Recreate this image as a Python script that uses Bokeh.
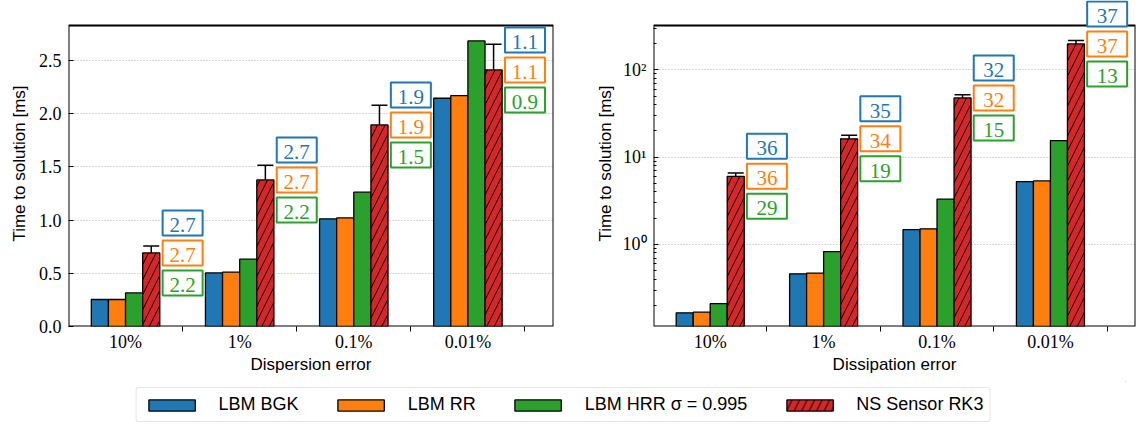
import math
from bokeh.plotting import figure
from bokeh.models import (ColumnDataSource, Range1d, FixedTicker, NumeralTickFormatter,
                          Label, Whisker, TeeHead, Legend, LegendItem, BoxAnnotation)
from bokeh.layouts import column, row
from bokeh.embed import file_html
from bokeh.resources import INLINE

# ---------------- data ----------------
categories = ["10%", "1%", "0.1%", "0.01%"]

disp_bgk = [0.254, 0.504, 1.012, 2.146]
disp_rr = [0.254, 0.511, 1.021, 2.171]
disp_hrr = [0.316, 0.633, 1.263, 2.685]
disp_ns = [0.692, 1.378, 1.895, 2.412]
disp_ns_lo = [0.620, 1.237, 1.707, 2.168]
disp_ns_hi = [0.758, 1.516, 2.080, 2.654]
disp_speedup_bgk = ["2.7", "2.7", "1.9", "1.1"]
disp_speedup_rr = ["2.7", "2.7", "1.9", "1.1"]
disp_speedup_hrr = ["2.2", "2.2", "1.5", "0.9"]

diss_bgk = [0.165, 0.461, 1.48, 5.26]
diss_rr = [0.168, 0.470, 1.51, 5.35]
diss_hrr = [0.210, 0.830, 3.30, 15.5]
diss_ns = [6.04, 16.2, 47.7, 198.0]
diss_ns_lo = [5.5, 14.5, 43.0, 180.0]
diss_ns_hi = [6.6, 17.8, 52.0, 217.0]
diss_speedup_bgk = ["36", "35", "32", "37"]
diss_speedup_rr = ["36", "34", "32", "37"]
diss_speedup_hrr = ["29", "19", "15", "13"]

series_names = ["LBM BGK", "LBM RR", "LBM HRR σ = 0.995", "NS Sensor RK3"]
colors = ["#1f77b4", "#ff7f0e", "#2ca02c", "#d62728"]
y_label = "Time to solution [ms]"

SERIF = "Liberation Serif"
SANS = "Liberation Sans"
BAR_W = 0.15
offsets = [-1.5 * BAR_W, -0.5 * BAR_W, 0.5 * BAR_W, 1.5 * BAR_W]
HATCH = dict(hatch_pattern="/", hatch_color="black", hatch_weight=1,
             hatch_scale=15, hatch_alpha=1.0)
FRAME_H = 301          # visible axes height
TOP_PAD = 25           # space above the axes (kept inside the drawing area so boxes can overflow)
X0, X1 = -0.5, 3.75
BOX_W_PX, BOX_H_PX, BOX_STEP_PX = 40, 25, 30


def make_panel(vals, ns_lo, ns_hi, speedups, xlabel, log, frame_w, border_left,
               border_right, title_standoff):
    idx = list(range(len(categories)))
    if log:
        y0, y1 = 0.115, 322
        ppd = FRAME_H / (math.log10(y1) - math.log10(y0))

        def shift(y, px):
            return y * 10 ** (px / ppd)
    else:
        y0, y1 = 0, 2.83
        ppu = FRAME_H / (y1 - y0)

        def shift(y, px):
            return y + px / ppu
    y_top_ext = shift(y1, TOP_PAD)

    common = dict(frame_width=frame_w, frame_height=FRAME_H + TOP_PAD,
                  x_range=Range1d(X0, X1), y_range=Range1d(y0, y_top_ext),
                  output_backend="svg", toolbar_location=None,
                  title=y_label, title_location="left",
                  min_border_left=border_left, min_border_right=border_right,
                  min_border_top=0, min_border_bottom=55)
    if log:
        p = figure(y_axis_type="log", **common)
        base = 1e-3
    else:
        p = figure(**common)
        base = 0.0
    p.outline_line_color = None
    p.background_fill_color = "white"

    xppu = frame_w / (X1 - X0)
    half_w = BOX_W_PX / 2 / xppu

    for k, (v, c, off) in enumerate(zip(vals, colors, offsets)):
        src = ColumnDataSource(dict(x=[i + off for i in idx], top=v,
                                    bottom=[base] * len(v)))
        kw = HATCH if k == 3 else {}
        p.vbar(x="x", top="top", bottom="bottom", width=BAR_W, source=src,
               fill_color=c, line_color="black", line_width=1.3, **kw)

    # axes frame (top edge at the visible axes top)
    p.add_layout(BoxAnnotation(top=y1, fill_alpha=0.0, line_color="black",
                               line_width=2, line_alpha=1.0, level="underlay"))

    # error bars on NS bars
    esrc = ColumnDataSource(dict(x=[i + offsets[3] for i in idx], lo=ns_lo, hi=ns_hi))
    p.add_layout(Whisker(source=esrc, base="x", lower="lo", upper="hi",
                         line_color="black", line_width=1.5,
                         upper_head=TeeHead(size=16, line_width=1.5, line_color="black"),
                         lower_head=TeeHead(size=16, line_width=1.5, line_color="black")))

    # speedup boxes
    ns = vals[3]
    for s_list, c, step in zip(speedups, colors[:3], [1, 0, -1]):
        for i in idx:
            yc = shift(ns[i], step * BOX_STEP_PX)
            p.add_layout(BoxAnnotation(left=i + 0.5 - half_w, right=i + 0.5 + half_w,
                                       bottom=shift(yc, -BOX_H_PX / 2),
                                       top=shift(yc, BOX_H_PX / 2),
                                       fill_color="white", fill_alpha=1.0,
                                       line_color=c, line_width=2, line_alpha=1.0))
            p.add_layout(Label(x=i + 0.5, y=ns[i], y_offset=step * BOX_STEP_PX - 2,
                               text=s_list[i],
                               text_align="center", text_baseline="alphabetic",
                               text_color=c, text_font=SERIF, text_font_size="21px"))

    # grid
    p.xgrid.visible = False
    p.ygrid.grid_line_color = "#b0b0b0"
    p.ygrid.grid_line_dash = "1 2"
    p.ygrid.grid_line_width = 1

    # y label as a left-side title, centred on the visible axes
    p.title.align = "center"
    p.title.offset = -TOP_PAD / 2
    p.title.standoff = title_standoff
    p.title.text_font = SANS
    p.title.text_font_size = "17px"
    p.title.text_font_style = "normal"
    p.title.text_color = "black"

    xa = p.xaxis[0]
    xa.ticker = FixedTicker(ticks=idx, minor_ticks=[i + 0.5 for i in idx])
    xa.major_label_overrides = {i: categories[i] for i in idx}
    xa.major_tick_line_color = None
    xa.major_tick_out = 0
    xa.major_tick_in = 0
    xa.minor_tick_line_color = "black"
    xa.minor_tick_out = 5
    xa.minor_tick_in = 0
    xa.axis_line_color = None
    xa.major_label_text_font = SERIF
    xa.major_label_text_font_size = "18px"
    xa.major_label_text_color = "black"
    xa.major_label_standoff = 0
    xa.axis_label = xlabel
    xa.axis_label_text_font = SANS
    xa.axis_label_text_font_size = "17px"
    xa.axis_label_text_font_style = "normal"
    xa.axis_label_text_color = "black"
    xa.axis_label_standoff = 0

    ya = p.yaxis[0]
    if log:
        ya.ticker = FixedTicker(ticks=[1, 10, 100],
                                minor_ticks=[0.2, 0.3, 0.4, 0.5, 0.6, 0.7, 0.8, 0.9,
                                             2, 3, 4, 5, 6, 7, 8, 9,
                                             20, 30, 40, 50, 60, 70, 80, 90, 200, 300])
        ya.major_label_overrides = {1: "10⁰", 10: "10¹", 100: "10²"}
        ya.minor_tick_line_color = "black"
        ya.minor_tick_in = 3
        ya.minor_tick_out = 0
    else:
        ya.ticker = FixedTicker(ticks=[0, 0.5, 1.0, 1.5, 2.0, 2.5])
        ya.formatter = NumeralTickFormatter(format="0.0")
        ya.minor_tick_line_color = None
        ya.minor_tick_out = 0
    ya.major_tick_in = 5
    ya.major_tick_out = 0
    ya.major_tick_line_color = "black"
    ya.axis_line_color = None
    ya.major_label_text_font = SERIF
    ya.major_label_text_font_size = "18px"
    ya.major_label_text_color = "black"
    ya.major_label_standoff = 7
    return p


p1 = make_panel([disp_bgk, disp_rr, disp_hrr, disp_ns], disp_ns_lo, disp_ns_hi,
                [disp_speedup_bgk, disp_speedup_rr, disp_speedup_hrr],
                "Dispersion error", False, 485, 68, 30, 13)
p2 = make_panel([diss_bgk, diss_rr, diss_hrr, diss_ns], diss_ns_lo, diss_ns_hi,
                [diss_speedup_bgk, diss_speedup_rr, diss_speedup_hrr],
                "Dissipation error", True, 482, 70, 8, 9)

# ---------------- legend strip ----------------
pl = figure(width=1126, height=44, x_range=Range1d(0, 1), y_range=Range1d(0, 1),
            output_backend="svg", toolbar_location=None,
            min_border_left=0, min_border_right=0, min_border_top=0, min_border_bottom=0)
pl.axis.visible = False
pl.grid.visible = False
pl.outline_line_color = None
items = []
for k, (name, c) in enumerate(zip(series_names, colors)):
    kw = HATCH if k == 3 else {}
    r = pl.vbar(x=[5], top=[5], bottom=[4], width=0.1, fill_color=c, line_color="black",
                line_width=1.3, **kw)
    items.append(LegendItem(label=name, renderers=[r]))
legend = Legend(items=items, location="top_center", orientation="horizontal",
                glyph_width=58, glyph_height=14, label_standoff=18, spacing=33,
                padding=6, margin=6, border_line_color="#cccccc",
                border_line_width=1.5, border_radius=3,
                background_fill_color="white", background_fill_alpha=1.0,
                label_text_font=SANS, label_text_font_size="18px",
                label_text_color="black")
pl.add_layout(legend)

layout = column(row(p1, p2), pl)
open("out.html", "w").write(file_html(layout, INLINE))
